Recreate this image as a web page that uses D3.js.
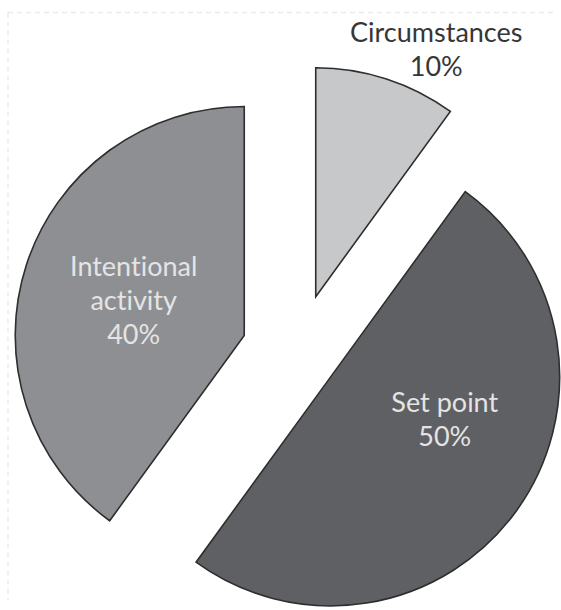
<!DOCTYPE html>
<html>
<head>
<meta charset="utf-8">
<script src="https://cdn.jsdelivr.net/npm/d3@7"></script>
<style>
  html, body { margin: 0; padding: 0; background: #fff; }
  svg { display: block; }
  text { font-variant-ligatures: none; font-feature-settings: "liga" 0, "clig" 0; }
</style>
</head>
<body>
<svg id="chart" width="561" height="610"></svg>
<script>
// ---- data ----
const categories = ["Circumstances", "Set point", "Intentional activity"];
const values = [10, 50, 40];
const labelLines = [["Circumstances", "10%"], ["Set point", "50%"], ["Intentional", "activity", "40%"]];

// ---- layout / style ----
const width = 561, height = 610;
const center = [297.5, 352.8];
const radius = 229;
const explode = [59, 41, 56];
const fills = ["#c7c8ca", "#5f6063", "#8e8f93"];
const textFills = ["#363636", "#e4e4e4", "#e4e4e4"];
// label anchor: [angle in degrees clockwise from top, distance from slice apex]
const labelPolar = [[26, 275], [110.7, 122], [287.6, 116]];
const lineHeight = 34;

const svg = d3.select("#chart");

// faint dashed frame (top and left)
svg.append("line").attr("x1", 8).attr("y1", 12.5).attr("x2", 553).attr("y2", 12.5)
  .attr("stroke", "#ebebeb").attr("stroke-width", 1.5).attr("stroke-dasharray", "5,4");
svg.append("line").attr("x1", 8).attr("y1", 12.5).attr("x2", 8).attr("y2", 600)
  .attr("stroke", "#ebebeb").attr("stroke-width", 1.5).attr("stroke-dasharray", "5,4");

const pie = d3.pie().sort(null).value(d => d).startAngle(0).endAngle(2 * Math.PI);
const arcs = pie(values);
const arc = d3.arc().innerRadius(0).outerRadius(radius);

const g = svg.append("g").attr("transform", `translate(${center[0]},${center[1]})`);

const slices = g.selectAll("g.slice").data(arcs).join("g")
  .attr("class", "slice")
  .attr("transform", (d, i) => {
    const a = (d.startAngle + d.endAngle) / 2;
    return `translate(${explode[i] * Math.sin(a)},${-explode[i] * Math.cos(a)})`;
  });

slices.append("path")
  .attr("d", arc)
  .attr("fill", (d, i) => fills[i])
  .attr("stroke", "#2e2e2e")
  .attr("stroke-width", 1.6)
  .attr("stroke-linejoin", "miter");

slices.each(function(d, i) {
  const [deg, dist] = labelPolar[i];
  const a = deg * Math.PI / 180;
  const x = dist * Math.sin(a), y = -dist * Math.cos(a);
  const lines = labelLines[i];
  const t = d3.select(this).append("text")
    .attr("text-anchor", "middle")
    .attr("font-family", "Lato, 'Open Sans', sans-serif")
    .attr("font-size", 27)
    .attr("fill", textFills[i]);
  lines.forEach((ln, k) => {
    t.append("tspan")
      .attr("x", x)
      .attr("y", y + (k - (lines.length - 1) / 2) * lineHeight)
      .attr("dy", "0.35em")
      .text(ln);
  });
});
</script>
</body>
</html>
